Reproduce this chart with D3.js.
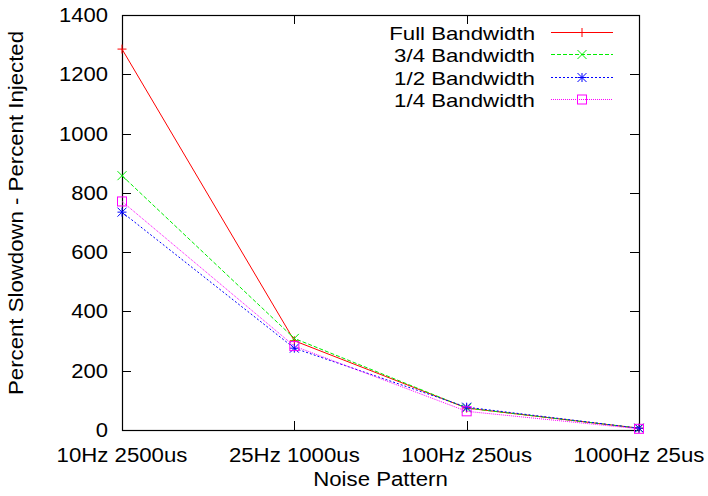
<!DOCTYPE html>
<html>
<head>
<meta charset="utf-8">
<script src="https://cdn.jsdelivr.net/npm/d3@7"></script>
<style>
  body { margin: 0; background: #fff; }
  text { font-family: "Liberation Sans", Arial, sans-serif; font-size: 20px; fill: #000; }
</style>
</head>
<body>
<div id="chart"></div>
<script>
// noise patterns on the x axis
var patterns = ["10Hz 2500us", "25Hz 1000us", "100Hz 250us", "1000Hz 25us"];
// series values
var fullBw = [1285, 301, 74, 6];
var threeQuarterBw = [858, 309, 74, 6];
var halfBw = [735, 276, 77, 6];
var quarterBw = [771, 283, 63, 4];
var seriesNames = ["Full Bandwidth", "3/4 Bandwidth", "1/2 Bandwidth", "1/4 Bandwidth"];
var yTicks = [0, 200, 400, 600, 800, 1000, 1200, 1400];

var width = 708, height = 496;
var margin = {left: 122, top: 15, right: 69, bottom: 66};

var series = [
  {name: seriesNames[0], values: fullBw, color: "#ff0000", dash: null, marker: "plus"},
  {name: seriesNames[1], values: threeQuarterBw, color: "#00ee00", dash: "4,2", marker: "cross"},
  {name: seriesNames[2], values: halfBw, color: "#0000ff", dash: "2,2", marker: "star"},
  {name: seriesNames[3], values: quarterBw, color: "#ff00ff", dash: "1,1", marker: "box"}
];

var svg = d3.select("#chart").append("svg")
  .attr("width", width).attr("height", height);

// gnuplot's font is wider than Liberation at the same height, so stretch a bit
function stretch(sel, k){
  var w = sel.node().getComputedTextLength();
  sel.attr("textLength", w * k).attr("lengthAdjust", "spacingAndGlyphs");
  return sel;
}

var x = d3.scalePoint().domain(patterns)
  .range([margin.left, width - margin.right]).padding(0);
var y = d3.scaleLinear().domain([0, 1400])
  .range([height - margin.bottom, margin.top]);

var x0 = margin.left, x1 = width - margin.right;
var y0 = height - margin.bottom, y1 = margin.top;
var tick = 9;

// 刻度 (gnuplot style: inward, mirrored)
var ticks = svg.append("g").attr("stroke", "#000").attr("stroke-width", 1);
yTicks.forEach(function(v){
  var yy = Math.round(y(v)) + 0.5;
  ticks.append("line").attr("x1", x0).attr("x2", x0 + tick).attr("y1", yy).attr("y2", yy);
  ticks.append("line").attr("x1", x1).attr("x2", x1 - tick).attr("y1", yy).attr("y2", yy);
  stretch(svg.append("text").attr("x", x0 - 14).attr("y", y(v) + 7)
    .attr("text-anchor", "end").text(v), 1.1);
});
patterns.forEach(function(p){
  var xx = Math.round(x(p)) + 0.5;
  ticks.append("line").attr("x1", xx).attr("x2", xx).attr("y1", y0).attr("y2", y0 - tick);
  ticks.append("line").attr("x1", xx).attr("x2", xx).attr("y1", y1).attr("y2", y1 + tick);
  stretch(svg.append("text").attr("x", x(p)).attr("y", 462)
    .attr("text-anchor", "middle").text(p), 1.11);
});

// 边框
svg.append("rect")
  .attr("x", x0 + 0.5).attr("y", y1 + 0.5)
  .attr("width", x1 - x0).attr("height", y0 - y1)
  .attr("fill", "none").attr("stroke", "#000").attr("stroke-width", 1.2);

// axis titles
stretch(svg.append("text").attr("x", (x0 + x1) / 2).attr("y", 486)
  .attr("text-anchor", "middle").text("Noise Pattern"), 1.11);
stretch(svg.append("text")
  .attr("transform", "translate(23," + 213 + ") rotate(-90)")
  .attr("text-anchor", "middle").text("Percent Slowdown - Percent Injected"), 1.11);

function drawMarker(g, type, cx, cy, color){
  var s = 4.5;
  var m = g.append("g").attr("stroke", color).attr("stroke-width", 1).attr("fill", "none");
  if(type === "plus" || type === "star"){
    m.append("line").attr("x1", cx - s).attr("x2", cx + s).attr("y1", cy).attr("y2", cy);
    m.append("line").attr("x1", cx).attr("x2", cx).attr("y1", cy - s).attr("y2", cy + s);
  }
  if(type === "cross" || type === "star"){
    m.append("line").attr("x1", cx - s).attr("x2", cx + s).attr("y1", cy - s).attr("y2", cy + s);
    m.append("line").attr("x1", cx - s).attr("x2", cx + s).attr("y1", cy + s).attr("y2", cy - s);
  }
  if(type === "box"){
    m.append("rect").attr("x", cx - s).attr("y", cy - s).attr("width", 2 * s).attr("height", 2 * s);
  }
}

var line = d3.line()
  .x(function(d, i){ return x(patterns[i]); })
  .y(function(d){ return y(d); });

series.forEach(function(s){
  svg.append("path").datum(s.values)
    .attr("d", line)
    .attr("fill", "none")
    .attr("stroke", s.color)
    .attr("stroke-width", 1)
    .attr("stroke-dasharray", s.dash);
  s.values.forEach(function(v, i){
    drawMarker(svg, s.marker, x(patterns[i]), y(v), s.color);
  });
});

// legend
var legendY = [32.5, 54.5, 77.5, 99.5];
series.forEach(function(s, i){
  var ly = legendY[i];
  stretch(svg.append("text").attr("x", 535).attr("y", ly + 7)
    .style("font-size", "19px")
    .attr("text-anchor", "end").text(s.name), 1.17);
  svg.append("line").attr("x1", 551).attr("x2", 613).attr("y1", ly).attr("y2", ly)
    .attr("stroke", s.color).attr("stroke-width", 1).attr("stroke-dasharray", s.dash);
  drawMarker(svg, s.marker, 582, ly, s.color);
});
</script>
</body>
</html>
